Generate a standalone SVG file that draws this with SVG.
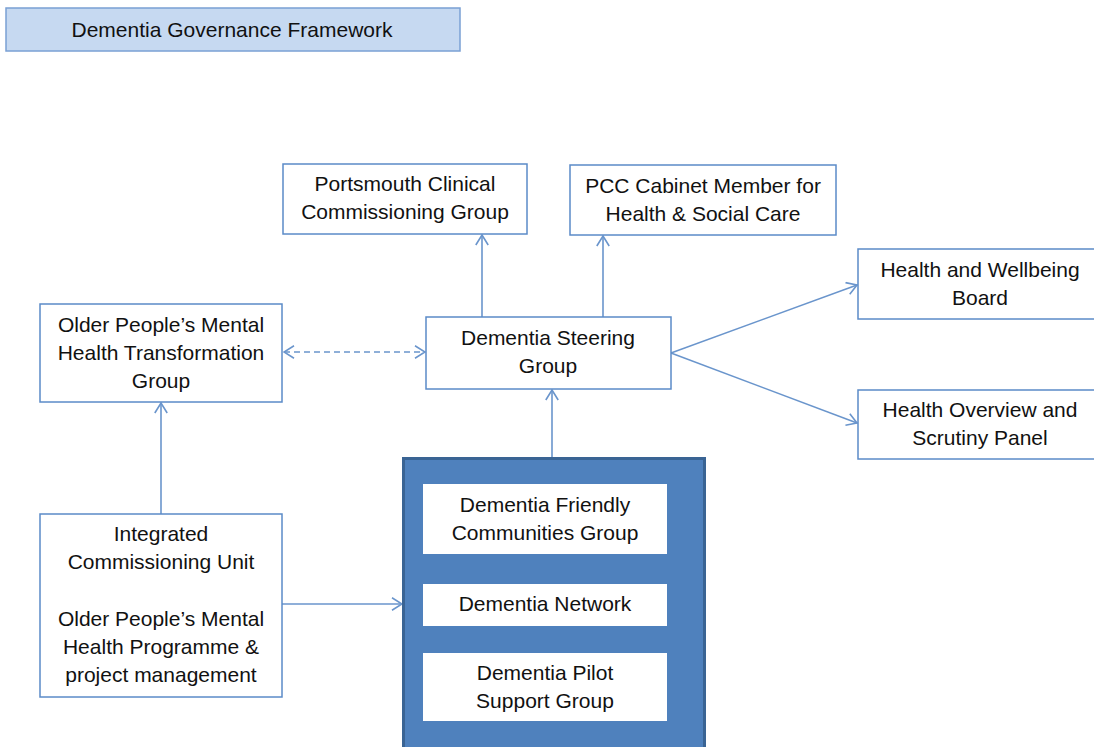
<svg xmlns="http://www.w3.org/2000/svg" width="1094" height="747" viewBox="0 0 1094 747">
<style>
.box{fill:#ffffff;stroke:#5b8bc8;stroke-width:1.5}
.t{font-family:"Liberation Sans",Arial,sans-serif;font-size:21px;fill:#111111;text-anchor:middle}
.c{fill:none;stroke:#6a95cc;stroke-width:1.6}
.inner{fill:#ffffff;stroke:none}
</style>
<defs>
<marker id="arr" viewBox="0 0 12 14" refX="11" refY="7" markerWidth="12" markerHeight="14" markerUnits="userSpaceOnUse" orient="auto-start-reverse">
<path d="M1,0.8 L11,7 L1,13.2" fill="none" stroke="#6a95cc" stroke-width="1.6"/>
</marker>
</defs>
<rect width="1094" height="747" fill="#ffffff"/>
<g id="title">
<rect x="6" y="8" width="454" height="43" fill="#c6d9f1" stroke="#7aa0d4" stroke-width="1.5"/>
<text class="t" x="232" y="37">Dementia Governance Framework</text>
</g>
<g id="connectors">
<line class="c" x1="482" y1="317" x2="482" y2="235" marker-end="url(#arr)"/>
<line class="c" x1="603" y1="317" x2="603" y2="236" marker-end="url(#arr)"/>
<line class="c" x1="671" y1="353" x2="857" y2="285" marker-end="url(#arr)"/>
<line class="c" x1="671" y1="353" x2="857" y2="423" marker-end="url(#arr)"/>
<line class="c" x1="284" y1="352" x2="425" y2="352" stroke-dasharray="6,4" marker-start="url(#arr)" marker-end="url(#arr)"/>
<line class="c" x1="552" y1="458" x2="552" y2="390" marker-end="url(#arr)"/>
<line class="c" x1="161" y1="514" x2="161" y2="403" marker-end="url(#arr)"/>
<line class="c" x1="282" y1="604" x2="402" y2="604" marker-end="url(#arr)"/>
</g>
<g id="portsmouth">
<rect class="box" x="283" y="164" width="244" height="70"/>
<text class="t" x="405" y="191">Portsmouth Clinical</text>
<text class="t" x="405" y="219">Commissioning Group</text>
</g>
<g id="pcc">
<rect class="box" x="570" y="165" width="266" height="70"/>
<text class="t" x="703" y="193">PCC Cabinet Member for</text>
<text class="t" x="703" y="221">Health &amp; Social Care</text>
</g>
<g id="hwb">
<rect class="box" x="858" y="249" width="240" height="70"/>
<text class="t" x="980" y="277">Health and Wellbeing</text>
<text class="t" x="980" y="305">Board</text>
</g>
<g id="hosp">
<rect class="box" x="858" y="390" width="240" height="69"/>
<text class="t" x="980" y="417">Health Overview and</text>
<text class="t" x="980" y="445">Scrutiny Panel</text>
</g>
<g id="opmh">
<rect class="box" x="40" y="304" width="242" height="98"/>
<text class="t" x="161" y="332">Older People’s Mental</text>
<text class="t" x="161" y="360">Health Transformation</text>
<text class="t" x="161" y="388">Group</text>
</g>
<g id="steering">
<rect class="box" x="426" y="317" width="245" height="72"/>
<text class="t" x="548" y="345">Dementia Steering</text>
<text class="t" x="548" y="373">Group</text>
</g>
<g id="icu">
<rect class="box" x="40" y="514" width="242" height="183"/>
<text class="t" x="161" y="541">Integrated</text>
<text class="t" x="161" y="569">Commissioning Unit</text>
<text class="t" x="161" y="626">Older People’s Mental</text>
<text class="t" x="161" y="654">Health Programme &amp;</text>
<text class="t" x="161" y="682">project management</text>
</g>
<g id="container">
<rect x="403.5" y="458.5" width="301" height="300" fill="#4f81bd" stroke="#3a6494" stroke-width="3"/>
</g>
<g id="dfcg">
<rect class="inner" x="423" y="484" width="244" height="70"/>
<text class="t" x="545" y="512">Dementia Friendly</text>
<text class="t" x="545" y="540">Communities Group</text>
</g>
<g id="network">
<rect class="inner" x="423" y="584" width="244" height="42"/>
<text class="t" x="545" y="611">Dementia Network</text>
</g>
<g id="pilot">
<rect class="inner" x="423" y="653" width="244" height="68"/>
<text class="t" x="545" y="680">Dementia Pilot</text>
<text class="t" x="545" y="708">Support Group</text>
</g>
</svg>
